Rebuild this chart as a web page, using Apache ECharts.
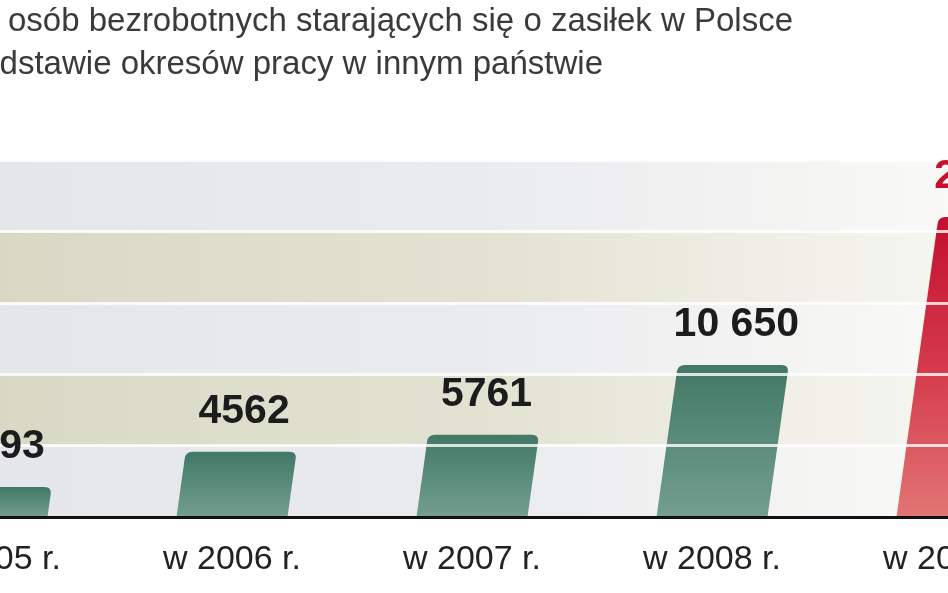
<!DOCTYPE html>
<html>
<head>
<meta charset="utf-8">
<script src="https://cdn.jsdelivr.net/npm/echarts@6/dist/echarts.min.js"></script>
<style>
html,body{margin:0;padding:0;background:#fff;width:948px;height:593px;overflow:hidden;position:relative;}
#c{position:absolute;left:-128px;top:0;width:1200px;height:593px;}
</style>
</head>
<body>
<div id="c"></div>
<script>
// ---- data ----
var titleLines = ['Liczba osób bezrobotnych starających się o zasiłek w Polsce',
                  'na podstawie okresów pracy w innym państwie'];
var categories = ['w 2005 r.', 'w 2006 r.', 'w 2007 r.', 'w 2008 r.', 'w 2009 r.'];
var values = [2093, 4562, 5761, 10650, 21000];
var highlightIndex = 4;
var yTicks = [0, 5000, 10000, 15000, 20000, 25000];

var OFFSET = 128; // chart canvas starts 128px left of the visible window

function fmt(v) {
  var s = String(v);
  if (v >= 10000) s = s.replace(/\B(?=(\d{3})+(?!\d))/g, ' ');
  return s;
}

var chart = echarts.init(document.getElementById('c'), null, {renderer: 'canvas'});
var G = echarts.graphic;

function bandGrad(c) {
  return new G.LinearGradient(0, 0, 1, 0, [
    {offset: 0, color: c[0]}, {offset: 0.1, color: c[1]}, {offset: 0.5, color: c[2]},
    {offset: 0.77, color: c[3]}, {offset: 0.9, color: c[4]}, {offset: 1, color: c[5]}
  ]);
}
var lightBand = bandGrad(['#dfe2e6', '#e4e6ea', '#eaebee', '#f4f4f3', '#f9f9f8', '#ffffff']);
var beigeBand = bandGrad(['#d3d4be', '#d8d9c5', '#e1e2d1', '#f0f0e8', '#f6f6f1', '#fafaf8']);

var SLANT = 0.14;
var BARW = 0.4625;

function barGeom(api) {
  var i = api.value(0), v = api.value(1);
  var base = api.coord([i, 0]);
  var top = api.coord([i, v]);
  var w = api.size([1, 0])[0] * BARW;
  var h = base[1] - top[1];
  return {i: i, v: v, x0: base[0] - w / 2, y0: base[1], y1: top[1], w: w, h: h, s: h * SLANT};
}

function renderBar(params, api) {
  var g = barGeom(api);
  var r = 7;
  var x0 = g.x0, y0 = g.y0, y1 = g.y1, w = g.w, s = g.s, h = g.h;
  var k = h > 0 ? (h - r) / h : 0;
  var p = 'M' + x0 + ' ' + y0 +
    ' L' + (x0 + s * k) + ' ' + (y1 + r) +
    ' Q' + (x0 + s) + ' ' + y1 + ' ' + (x0 + s + r) + ' ' + y1 +
    ' L' + (x0 + s + w - r) + ' ' + y1 +
    ' Q' + (x0 + s + w) + ' ' + y1 + ' ' + (x0 + w + s * k) + ' ' + (y1 + r) +
    ' L' + (x0 + w) + ' ' + y0 + ' Z';
  var red = g.i === highlightIndex;
  var fill = red
    ? new G.LinearGradient(0, 0, 0, 1, [{offset: 0, color: '#c40f2f'}, {offset: 0.5, color: '#d43a4b'}, {offset: 1, color: '#e27574'}])
    : new G.LinearGradient(0, 0, 0, 1, [{offset: 0, color: '#427866'}, {offset: 1, color: '#739e90'}]);
  return {type: 'path', shape: {pathData: p}, style: {fill: fill}};
}

function renderLabel(params, api) {
  var g = barGeom(api);
  var red = g.i === highlightIndex;
  return {
    type: 'text',
    style: {
      text: fmt(g.v),
      x: g.x0 + g.s + g.w / 2 + 3,
      y: g.y1 - 20,
      align: 'center',
      verticalAlign: 'bottom',
      font: 'bold 41px "Liberation Sans", Arial, sans-serif',
      fill: red ? '#c8102e' : '#1c1c1c'
    }
  };
}

var data = values.map(function (v, i) { return [i, v]; });

chart.setOption({
  animation: false,
  backgroundColor: '#ffffff',
  grid: {left: 0, right: 0, top: 160, bottom: 76, containLabel: false},
  xAxis: {
    type: 'category',
    data: categories,
    z: 6,
    axisLine: {show: true, lineStyle: {color: '#111', width: 3}},
    axisTick: {show: false},
    axisLabel: {color: '#222', fontSize: 34, fontFamily: '"Liberation Sans", Arial, sans-serif', margin: 26}
  },
  yAxis: [{
    type: 'value', min: yTicks[0], max: yTicks[yTicks.length - 1], interval: 5000,
    axisLine: {show: false}, axisTick: {show: false}, axisLabel: {show: false},
    splitLine: {show: false},
    splitArea: {show: true, areaStyle: {color: [lightBand, beigeBand]}}
  }, {
    type: 'value', min: yTicks[0], max: yTicks[yTicks.length - 1], interval: 5000,
    z: 5,
    axisLine: {show: false}, axisTick: {show: false}, axisLabel: {show: false},
    splitLine: {show: true, lineStyle: {color: 'rgba(255,255,255,0.8)', width: 3}},
    splitArea: {show: false}
  }],
  graphic: [
    {type: 'text', z: 10, style: {text: titleLines[0], x: 793 + OFFSET, y: 22, align: 'right', verticalAlign: 'middle',
      font: '33px "Liberation Sans", Arial, sans-serif', fill: '#3a3a3a'}},
    {type: 'text', z: 10, style: {text: titleLines[1], x: 603 + OFFSET, y: 65, align: 'right', verticalAlign: 'middle',
      font: '33px "Liberation Sans", Arial, sans-serif', fill: '#3a3a3a'}}
  ],
  series: [{
    type: 'custom', name: 'bars', z: 2, yAxisIndex: 0,
    renderItem: renderBar, data: data, clip: false
  }, {
    type: 'custom', name: 'labels', z: 8, yAxisIndex: 0,
    renderItem: renderLabel, data: data, clip: false
  }]
});
</script>
</body>
</html>
